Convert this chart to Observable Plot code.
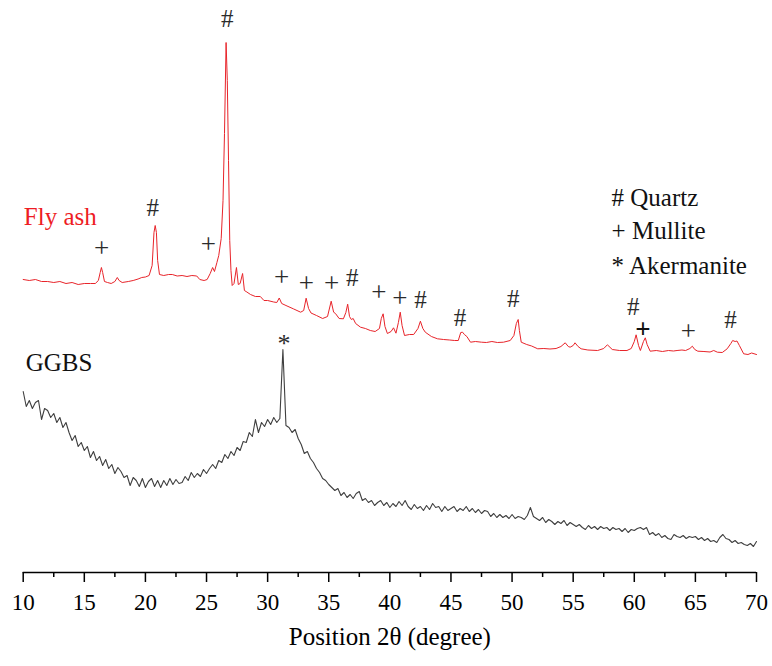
<!DOCTYPE html>
<html>
<head>
<meta charset="utf-8">
<script src="https://cdn.jsdelivr.net/npm/d3@7"></script>
<script src="https://cdn.jsdelivr.net/npm/@observablehq/plot@0.6"></script>
<style>
  html, body { margin: 0; padding: 0; background: #fff; }
  #chart { width: 772px; height: 666px; }
</style>
</head>
<body>
<div id="chart"></div>
<script>
// ---- Data (intensity in arbitrary units) ----
const xTicks = [10, 15, 20, 25, 30, 35, 40, 45, 50, 55, 60, 65, 70];
const xMinorTicks = [12.5, 17.5, 22.5, 27.5, 32.5, 37.5, 42.5, 47.5, 52.5, 57.5, 62.5, 67.5];
const xLabel = "Position 2θ (degree)";

// Fly ash pattern: 2θ and intensity
const flyAshX = [10.0,10.5,11.0,11.5,12.0,12.5,13.0,13.5,14.0,14.5,15.0,15.5,15.9,16.15,16.3,16.4,16.5,16.65,16.9,17.2,17.5,17.7,17.85,18.1,18.6,19.0,19.4,19.7,20.0,20.3,20.55,20.7,20.8,20.9,21.0,21.15,21.5,21.9,22.2,22.6,23.0,23.4,23.8,24.2,24.45,24.8,25.05,25.3,25.5,25.65,25.85,26.0,26.2,26.35,26.47,26.6,26.7,26.8,26.9,27.0,27.1,27.25,27.45,27.6,27.75,27.95,28.1,28.3,28.6,29.0,29.4,29.7,30.0,30.5,30.75,30.95,31.15,31.5,32.1,32.7,32.95,33.15,33.35,33.55,34.0,34.5,34.9,35.2,35.4,35.55,35.85,36.2,36.4,36.55,36.7,36.85,37.0,37.2,37.6,38.0,38.4,38.8,39.15,39.3,39.45,39.6,39.8,40.1,40.3,40.5,40.7,40.85,41.0,41.2,41.6,41.95,42.3,42.5,42.7,42.9,43.4,43.9,44.4,44.9,45.3,45.6,45.8,45.95,46.1,46.3,46.6,47.0,47.5,47.9,48.35,48.8,49.3,49.85,50.15,50.35,50.5,50.6,50.75,51.2,51.6,52.1,52.6,53.1,53.6,54.0,54.35,54.6,54.75,55.0,55.15,55.4,55.65,56.2,57.0,57.5,57.8,58.2,58.8,59.4,59.75,60.0,60.15,60.35,60.5,60.75,60.9,61.05,61.3,61.8,62.3,62.8,63.2,63.5,63.9,64.2,64.55,64.75,64.95,65.2,65.7,66.2,66.5,66.8,67.2,67.6,67.9,68.05,68.25,68.4,68.6,68.95,69.3,69.6,70.0];
const flyAshY = [293,292,293,291,291,290,291,289,290,288,289,289,289,292,300,305,300,291,290,289,291,295,292,290,291,292,293.5,295,295.5,297,307,340,347,340,312,298,297,298,298,296.5,297,296,297,296.5,293,292,293,299,305,301,310,317,334,372,439,530,492,412,332,302,287,289,305,288,289,299,282,280.5,278,276,276,272,272,270.5,270,274.5,269,267,263.7,260.3,262,274.3,264,259.5,257,254,256,271.3,260.3,259,254,253.7,260,268.3,256,253,254,249,245.3,244,242,241,244,254,258.7,246,239,241,244.7,239.3,250,260.3,247,237,238,238,244,251.3,244,240.3,236,233.7,233,232.5,232,232,240,240.3,238,236,230.3,231,230.3,230,231,230,230.3,232,237,249,253,242,230.3,228,226.5,223.7,224,223.5,224,226,229.7,226,225.3,227,229.7,226,223.7,222.5,222,224,227.7,223,222,222,224,231,237.7,227,222,231,234.7,228,221.3,222,221,222,221.5,222,222.5,222,224,226.3,223,221.3,221,220.5,222,220.3,220,223.7,229,232,231,231.5,227,218.7,218,219.5,218];

// GGBS pattern: scanned on a 0.25° grid from 10° to 70°
const ggbsStart = 10;
const ggbsStep = 0.25;
const ggbsY = [
  181,166,172,164,   // 10
  170,172,153,164,   // 11
  162,155,159,150,   // 12
  155,145,150,140,   // 13
  132,137,126,130,   // 14
  122,126,115,121,   // 15
  112,116,107,113,   // 16
  104,108,99,105,    // 17
  101,95,97,87,      // 18
  95,92,86,94,       // 19
  85,91,94,86,       // 20
  92,85,92,87,       // 21
  94,88,93,89,       // 22
  90,96,92,100,      // 23
  95,99,96,103,      // 24
  99,104,108,104,    // 25
  112,110,118,114,   // 26
  121,117,125,122,   // 27
  131,130,140,136,   // 28
  153,140,150,146,   // 29
  153,148,155,150,   // 30
  154,223,147,145,   // 31
  140,143,134,128,   // 32
  119,121,114,110,   // 33
  104,100,94,92,     // 34
  88,85,82,84,       // 35
  77,80,75,78,       // 36
  74,79,81,72,       // 37
  74,70,72,67,       // 38
  70,72,67,70,       // 39
  65,69,66,71,       // 40
  67,72,66,63,       // 41
  68,64,66,62,       // 42
  67,63,69,65,       // 43
  66,61,66,62,       // 44
  64,66,61,64,       // 45
  62,66,61,64,       // 46
  60,63,59,62,       // 47
  61,56,59,55,       // 48
  58,55,57,54,       // 49
  58,54,56,55,       // 50
  53,57,65,56,       // 51
  54,52,55,50,       // 52
  53,51,48,51,       // 53
  49,52,47,50,       // 54
  48,46,48,45,       // 55
  43,47,44,46,       // 56
  43,46,44,45,       // 57
  42,45,43,44,       // 58
  41,44,40,43,       // 59
  42,44,45,43,       // 60
  45,38,40,37,       // 61
  39,35,37,34,       // 62
  33,38,36,35,       // 63
  37,34,36,35,       // 64
  36,33,35,32,       // 65
  34,31,32,30,       // 66
  35,38,34,33,       // 67
  30,32,29,30,       // 68
  28,27,29,26,       // 69
  31                 // 70
];

// Series labels
const seriesNames = ["Fly ash", "GGBS"];
const seriesLabelX = [10.05, 10.2];
const seriesLabelY = [356, 210];

// Phase markers
const quartzX = [20.6, 26.69, 36.92, 42.51, 45.73, 50.1, 59.92, 67.88];
const quartzY = [365, 554, 295, 273, 255, 274, 266, 253];
const mulliteX = [16.41, 25.14, 31.14, 33.16, 35.23, 39.1, 40.82, 64.42];
const mulliteY = [324, 328, 295, 289, 289, 280, 274, 241];
const mulliteBoldX = [60.7];
const mulliteBoldY = [243];
const akermaniteX = [31.33];
const akermaniteY = [229];

// Phase key
const keyLabels = ["# Quartz", "+ Mullite", "* Akermanite"];
const keyX = [58.14, 58.14, 58.14];
const keyY = [375, 342, 307];

// ---- Build tables ----
const flyAsh = flyAshX.map((x, i) => ({x, y: flyAshY[i]}));
const ggbs = ggbsY.map((y, i) => ({x: ggbsStart + i * ggbsStep, y}));
const seriesLabels = seriesNames.map((t, i) => ({t, x: seriesLabelX[i], y: seriesLabelY[i]}));
const quartz = quartzX.map((x, i) => ({x, y: quartzY[i]}));
const mullite = mulliteX.map((x, i) => ({x, y: mulliteY[i]}));
const mulliteBold = mulliteBoldX.map((x, i) => ({x, y: mulliteBoldY[i]}));
const akermanite = akermaniteX.map((x, i) => ({x, y: akermaniteY[i]}));
const keyRows = keyLabels.map((t, i) => ({t, x: keyX[i], y: keyY[i]}));

const serif = "Liberation Serif";
const redColor = "#e8242a";
const greyColor = "#3f3f3f";
const symColor = "#2b2b2b";

const chart = Plot.plot({
  width: 772,
  height: 666,
  marginLeft: 22.7,
  marginRight: 16,
  marginTop: 0,
  marginBottom: 94,
  style: {background: "#fff", color: "#000", fontFamily: serif},
  x: {domain: [10, 70]},
  y: {domain: [0, 572], axis: null},
  marks: [
    Plot.ruleY([0], {stroke: "#000", strokeWidth: 1.5}),
    Plot.axisX({ticks: xTicks, tickSize: 10, tickPadding: 11, fontSize: 23, strokeWidth: 1.5, label: null, fill: "#000"}),
    Plot.ruleX(xMinorTicks, {x: (d) => d, y1: 0, y2: -5, stroke: "#000", strokeWidth: 1.5}),
    Plot.text([xLabel], {frameAnchor: "bottom", dy: 64, fontSize: 25, fill: "#000", lineAnchor: "middle"}),
    Plot.line(ggbs, {x: "x", y: "y", stroke: greyColor, strokeWidth: 1.1}),
    Plot.line(flyAsh, {x: "x", y: "y", stroke: redColor, strokeWidth: 1}),
    Plot.text(seriesLabels, {x: "x", y: "y", text: "t", textAnchor: "start", lineAnchor: "middle", fontSize: 25,
      fill: (d) => d.t === "Fly ash" ? "#ee1c24" : "#111"}),
    Plot.text(quartz, {x: "x", y: "y", text: () => "#", fontSize: 25, fill: symColor, lineAnchor: "middle"}),
    Plot.text(mullite, {x: "x", y: "y", text: () => "+", fontSize: 27, fill: symColor, lineAnchor: "middle"}),
    Plot.text(mulliteBold, {x: "x", y: "y", text: () => "+", fontSize: 27, fontWeight: "bold", fill: "#111", lineAnchor: "middle"}),
    Plot.text(akermanite, {x: "x", y: "y", text: () => "*", fontSize: 26, fill: symColor, lineAnchor: "middle"}),
    Plot.text(keyRows, {x: "x", y: "y", text: "t", textAnchor: "start", lineAnchor: "middle", fontSize: 25, fill: "#111"})
  ]
});
document.getElementById("chart").appendChild(chart);
</script>
</body>
</html>
